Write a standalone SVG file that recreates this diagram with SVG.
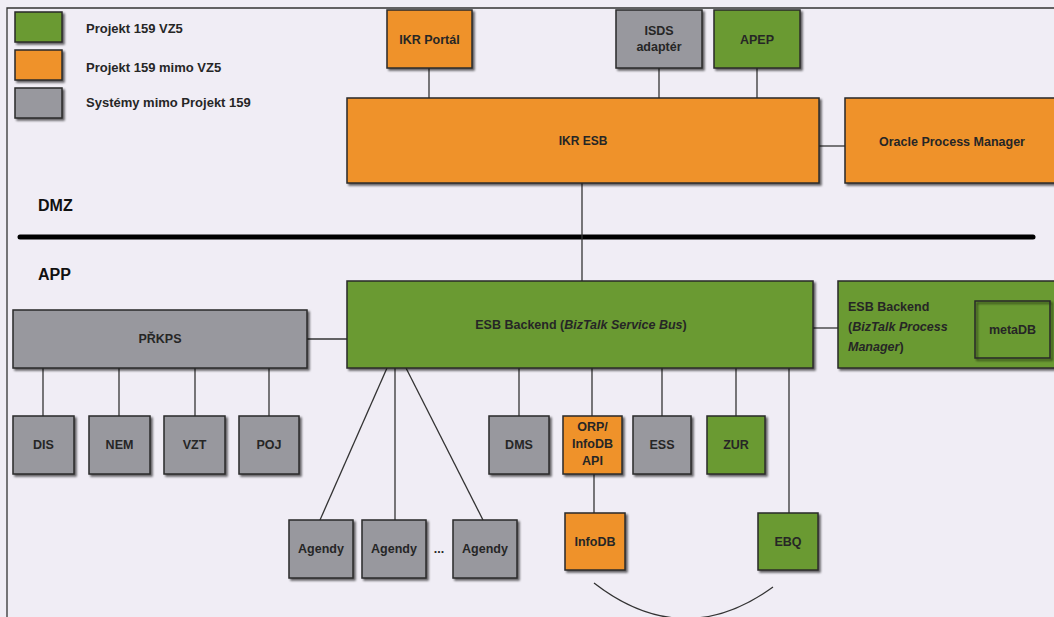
<svg xmlns="http://www.w3.org/2000/svg" width="1054" height="617" viewBox="0 0 1054 617">
<defs>
<filter id="sh" x="-10%" y="-10%" width="130%" height="130%">
<feDropShadow dx="2" dy="2" stdDeviation="0.8" flood-color="#000" flood-opacity="0.6"/>
</filter>
<style>
.g{fill:#6b9a30;stroke:#2a2a2a;stroke-width:1.5;filter:url(#sh)}
.o{fill:#ef922a;stroke:#2a2a2a;stroke-width:1.5;filter:url(#sh)}
.y{fill:#98989e;stroke:#2a2a2a;stroke-width:1.5;filter:url(#sh)}
.t{font-family:"Liberation Sans",Arial,sans-serif;font-size:12.5px;font-weight:bold;fill:#262626;text-anchor:middle}
.s{font-family:"Liberation Sans",Arial,sans-serif;font-size:12.5px;font-weight:bold;fill:#262626;text-anchor:start}
.l{font-family:"Liberation Sans",Arial,sans-serif;font-size:13px;font-weight:bold;fill:#262626}
.z{font-family:"Liberation Sans",Arial,sans-serif;font-size:16px;font-weight:bold;fill:#111}
.c{stroke:#333;stroke-width:1.3;fill:none}
</style>
</defs>
<rect width="1054" height="617" fill="#f0edf5"/>
<path d="M7,617 V8 H1054" fill="none" stroke="#333" stroke-width="1.3"/>

<g id="legend">
<rect class="g" x="15" y="12" width="47" height="30"/>
<rect class="o" x="15" y="50" width="47" height="30"/>
<rect class="y" x="15" y="88" width="47" height="30"/>
<text class="l" x="86" y="33">Projekt 159 VZ5</text>
<text class="l" x="86" y="72">Projekt 159 mimo VZ5</text>
<text class="l" x="86" y="107">Systémy mimo Projekt 159</text>
</g>

<g id="zones">
<text class="z" x="38" y="211">DMZ</text>
<line x1="20" y1="237" x2="1033" y2="237" stroke="#000" stroke-width="5" stroke-linecap="round"/>
<text class="z" x="38" y="280">APP</text>
</g>

<g id="connectors">
<line class="c" x1="429" y1="68" x2="429" y2="98"/>
<line class="c" x1="659" y1="68" x2="659" y2="98"/>
<line class="c" x1="757" y1="68" x2="757" y2="98"/>
<line class="c" x1="819" y1="146" x2="845" y2="146"/>
<line class="c" x1="582" y1="183" x2="582" y2="281"/>
<line class="c" x1="813" y1="328" x2="838" y2="328"/>
<line class="c" x1="307" y1="339" x2="347" y2="339"/>
<line class="c" x1="43" y1="368" x2="43" y2="416"/>
<line class="c" x1="119" y1="368" x2="119" y2="416"/>
<line class="c" x1="195" y1="368" x2="195" y2="416"/>
<line class="c" x1="269" y1="368" x2="269" y2="416"/>
<line class="c" x1="387" y1="368" x2="320" y2="520"/>
<line class="c" x1="395" y1="368" x2="395" y2="520"/>
<line class="c" x1="406" y1="368" x2="483" y2="520"/>
<line class="c" x1="519" y1="368" x2="519" y2="416"/>
<line class="c" x1="592" y1="368" x2="592" y2="416"/>
<line class="c" x1="662" y1="368" x2="662" y2="416"/>
<line class="c" x1="736" y1="368" x2="736" y2="416"/>
<line class="c" x1="789" y1="368" x2="789" y2="513"/>
<line class="c" x1="594" y1="474" x2="594" y2="513"/>
<path class="c" d="M594,583 Q683,652 773,587"/>
</g>

<g id="ikr-portal"><rect class="o" x="387" y="10" width="85" height="58"/><text class="t" x="429.5" y="44">IKR Portál</text></g>
<g id="isds"><rect class="y" x="616" y="10" width="86" height="58"/><text class="t" x="659" y="35">ISDS</text><text class="t" x="659" y="51">adaptér</text></g>
<g id="apep"><rect class="g" x="714" y="10" width="86" height="58"/><text class="t" x="757" y="44">APEP</text></g>
<g id="ikr-esb"><rect class="o" x="347" y="98" width="472" height="85"/><text class="t" x="583" y="145" style="font-size:12px">IKR ESB</text></g>
<g id="oracle"><rect class="o" x="845" y="98" width="215" height="85"/><text class="t" x="952" y="146">Oracle Process Manager</text></g>

<g id="esb-backend"><rect class="g" x="347" y="281" width="466" height="87"/><text class="t" x="581" y="329">ESB Backend (<tspan font-style="italic">BizTalk Service Bus</tspan>)</text></g>
<g id="esb-backend-pm"><rect class="g" x="838" y="281" width="222" height="87"/>
<text class="s" x="848" y="311">ESB Backend</text>
<text class="s" x="848" y="331">(<tspan font-style="italic">BizTalk Process</tspan></text>
<text class="s" x="848" y="351"><tspan font-style="italic">Manager</tspan>)</text>
</g>
<g id="metadb"><rect x="975" y="301" width="75" height="57" fill="none" stroke="#2a2a2a" stroke-width="1.5" filter="url(#sh)"/><text class="t" x="1012.5" y="334">metaDB</text></g>

<g id="prkps"><rect class="y" x="13" y="310" width="294" height="58"/><text class="t" x="160" y="343">PŘKPS</text></g>
<g id="dis"><rect class="y" x="13" y="416" width="61" height="58"/><text class="t" x="43.5" y="449">DIS</text></g>
<g id="nem"><rect class="y" x="89" y="416" width="61" height="58"/><text class="t" x="119.5" y="449">NEM</text></g>
<g id="vzt"><rect class="y" x="164" y="416" width="61" height="58"/><text class="t" x="194.5" y="449">VZT</text></g>
<g id="poj"><rect class="y" x="239" y="416" width="60" height="58"/><text class="t" x="269" y="449">POJ</text></g>

<g id="dms"><rect class="y" x="489" y="416" width="60" height="58"/><text class="t" x="519" y="449">DMS</text></g>
<g id="orp"><rect class="o" x="563" y="416" width="59" height="58"/><text class="t" x="592.5" y="431">ORP/</text><text class="t" x="592.5" y="448">InfoDB</text><text class="t" x="592.5" y="465">API</text></g>
<g id="ess"><rect class="y" x="633" y="416" width="58" height="58"/><text class="t" x="662" y="449">ESS</text></g>
<g id="zur"><rect class="g" x="707" y="416" width="58" height="58"/><text class="t" x="736" y="449">ZUR</text></g>

<g id="agendy1"><rect class="y" x="289" y="520" width="64" height="58"/><text class="t" x="321" y="553">Agendy</text></g>
<g id="agendy2"><rect class="y" x="362" y="520" width="64" height="58"/><text class="t" x="394" y="553">Agendy</text></g>
<text class="t" x="439" y="553">...</text>
<g id="agendy3"><rect class="y" x="453" y="520" width="64" height="58"/><text class="t" x="485" y="553">Agendy</text></g>

<g id="infodb"><rect class="o" x="565" y="513" width="60" height="57"/><text class="t" x="595" y="546">InfoDB</text></g>
<g id="ebq"><rect class="g" x="758" y="513" width="60" height="57"/><text class="t" x="788" y="546">EBQ</text></g>
</svg>
